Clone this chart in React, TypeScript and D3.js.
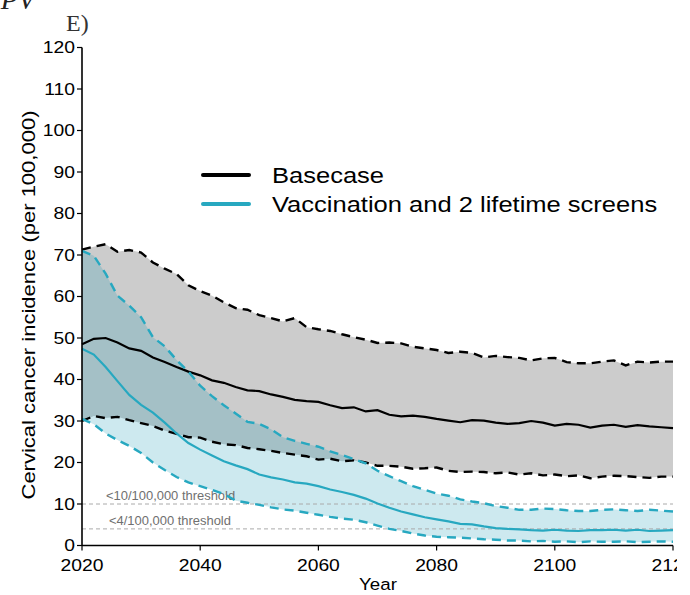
import React from "react";
import * as d3 from "d3";

const years = d3.range(2020, 2121, 2);

const baseUpper = [71.3, 72.0, 72.6, 70.8, 71.2, 70.6, 68.2, 66.7, 65.4, 62.7, 61.3, 60.2, 58.6, 57.2, 56.8, 55.5, 54.8, 54.0, 54.8, 52.6, 52.1, 51.7, 50.9, 50.2, 49.6, 48.8, 48.9, 48.7, 47.9, 47.5, 47.1, 46.4, 46.7, 46.4, 45.3, 45.7, 45.4, 45.2, 44.6, 45.1, 45.2, 44.2, 43.9, 43.9, 44.3, 44.6, 43.4, 44.3, 44.1, 44.3, 44.3];
const baseMedian = [48.5, 49.8, 50.0, 48.9, 47.5, 46.9, 45.3, 44.2, 43.0, 41.9, 41.0, 39.8, 39.2, 38.2, 37.4, 37.2, 36.4, 35.8, 35.1, 34.8, 34.6, 33.8, 33.1, 33.3, 32.3, 32.6, 31.5, 31.1, 31.3, 31.0, 30.5, 30.1, 29.7, 30.2, 30.1, 29.6, 29.3, 29.5, 30.0, 29.6, 28.9, 29.3, 29.1, 28.4, 28.9, 29.1, 28.6, 29.0, 28.7, 28.5, 28.3];
const baseLower = [30.0, 31.2, 30.7, 31.0, 30.2, 29.5, 28.8, 27.7, 26.9, 26.1, 26.0, 25.0, 24.4, 24.2, 23.5, 23.2, 22.8, 22.3, 21.9, 21.5, 20.7, 20.9, 20.3, 20.5, 20.0, 19.2, 19.2, 19.0, 18.5, 18.6, 18.8, 18.0, 17.7, 17.8, 17.7, 17.4, 17.6, 17.1, 17.4, 16.9, 17.1, 16.7, 16.9, 16.2, 16.6, 16.8, 16.7, 16.5, 16.3, 16.6, 16.6];

const vaxUpper = [71.0, 69.8, 65.5, 60.2, 57.8, 55.0, 50.2, 48.0, 44.7, 41.9, 38.5, 36.0, 33.8, 31.8, 29.8, 29.3, 28.0, 26.1, 25.2, 24.5, 23.8, 22.7, 21.8, 20.8, 19.8, 18.0, 16.7, 15.5, 14.3, 13.4, 12.5, 12.0, 11.1, 10.6, 10.2, 9.5, 9.1, 8.6, 8.6, 8.9, 8.8, 8.5, 8.3, 8.3, 8.6, 8.7, 8.5, 8.3, 8.6, 8.4, 8.2];
const vaxMedian = [47.4, 46.0, 43.0, 39.6, 36.3, 33.9, 32.0, 29.6, 27.0, 24.7, 23.1, 21.7, 20.3, 19.3, 18.4, 17.1, 16.4, 15.9, 15.2, 14.9, 14.3, 13.5, 12.9, 12.2, 11.3, 10.1, 9.1, 8.2, 7.5, 6.8, 6.3, 5.8, 5.2, 5.1, 4.6, 4.2, 4.0, 3.9, 3.7, 3.6, 3.8, 3.6, 3.5, 3.7, 3.7, 3.8, 3.6, 3.8, 3.5, 3.6, 3.7];
const vaxLower = [30.5, 29.2, 27.0, 25.4, 24.0, 22.3, 20.0, 18.2, 16.5, 15.2, 14.3, 13.4, 12.4, 10.8, 10.3, 9.8, 9.2, 8.7, 8.4, 7.9, 7.4, 6.9, 6.5, 6.2, 5.6, 4.8, 4.0, 3.5, 2.9, 2.4, 2.1, 2.0, 1.9, 1.7, 1.5, 1.4, 1.2, 1.2, 1.0, 1.1, 0.9, 1.0, 0.8, 1.0, 0.9, 0.9, 1.0, 0.8, 0.9, 1.0, 0.9];

const yTicks = [0, 10, 20, 30, 40, 50, 60, 70, 80, 90, 100, 110, 120];
const xTicks = [2020, 2040, 2060, 2080, 2100, 2120];
const thresholds = [
  { value: 10, label: "<10/100,000 threshold" },
  { value: 4, label: "<4/100,000 threshold" },
];
const legendItems = [
  { label: "Basecase", color: "#000000" },
  { label: "Vaccination and 2 lifetime screens", color: "#27A8C0" },
];

const W = 690;
const H = 595;
const FONT = "'Liberation Sans', Arial, Helvetica, sans-serif";
const CYAN = "#27A8C0";

type TProps = {
  x: number;
  y: number;
  size: number;
  sx?: number;
  rotate?: number;
  anchor?: "start" | "middle" | "end";
  fill?: string;
  dy?: string;
  children: React.ReactNode;
};

function T({ x, y, size, sx = 1, rotate = 0, anchor = "start", fill = "#000", dy, children }: TProps) {
  return (
    <g transform={`translate(${x},${y}) rotate(${rotate}) scale(${sx},1)`}>
      <text x={0} y={0} dy={dy} textAnchor={anchor} fontFamily={FONT} fontSize={size} fill={fill}>
        {children}
      </text>
    </g>
  );
}

export default function App() {
  const x = d3.scaleLinear().domain([2020, 2120]).range([82, 673]);
  const y = d3.scaleLinear().domain([0, 120]).range([545.5, 47.5]);

  const band = (up: number[], lo: number[]) =>
    d3
      .area<number>()
      .x((_, i) => x(years[i]))
      .y0((_, i) => y(lo[i]))
      .y1((_, i) => y(up[i]))(years) || "";
  const line = (vals: number[]) =>
    d3
      .line<number>()
      .x((_, i) => x(years[i]))
      .y((_, i) => y(vals[i]))(years) || "";

  return (
    <svg
      width={W}
      height={H}
      style={{ position: "absolute", left: 0, top: 0, background: "#fff" }}
    >
      <defs>
        <clipPath id="pageclip">
          <rect x={0} y={0} width={677} height={H} />
        </clipPath>
      </defs>
      <g clipPath="url(#pageclip)">
        <text
          x={35}
          y={9}
          textAnchor="end"
          fontFamily="'Liberation Serif', 'Times New Roman', serif"
          fontStyle="italic"
          fontSize={28}
          fill="#222"
        >
          HPV
        </text>
        <text
          x={66}
          y={31}
          fontFamily="'Liberation Serif', 'Times New Roman', serif"
          fontSize={24}
          fill="#333"
        >
          E)
        </text>

        {/* bands */}
        <path d={band(baseUpper, baseLower)} fill="#CCCCCC" />
        <path d={band(vaxUpper, vaxLower)} fill="rgb(5,145,175)" fillOpacity={0.2} />

        {/* thresholds */}
        {thresholds.map((t) => (
          <g key={t.label}>
            <line
              x1={x(2020)}
              x2={x(2120)}
              y1={y(t.value)}
              y2={y(t.value)}
              stroke="#AAAAAA"
              strokeWidth={1}
              strokeDasharray="4,3"
            />
            <T x={t.value === 10 ? 106 : 109} y={y(t.value) - 4} size={12} sx={1.08} fill="#707070">
              {t.label}
            </T>
          </g>
        ))}

        {/* basecase lines */}
        <path d={line(baseUpper)} fill="none" stroke="#000" strokeWidth={2.4} strokeDasharray="9,6" />
        <path d={line(baseLower)} fill="none" stroke="#000" strokeWidth={2.4} strokeDasharray="9,6" />
        <path d={line(baseMedian)} fill="none" stroke="#000" strokeWidth={2.2} />

        {/* vaccination lines */}
        <path d={line(vaxUpper)} fill="none" stroke={CYAN} strokeWidth={2.4} strokeDasharray="9,6" />
        <path d={line(vaxLower)} fill="none" stroke={CYAN} strokeWidth={2.4} strokeDasharray="9,6" />
        <path d={line(vaxMedian)} fill="none" stroke={CYAN} strokeWidth={2.2} />

        {/* y axis */}
        <line x1={82} x2={82} y1={y(120)} y2={y(0)} stroke="#000" strokeWidth={1.6} />
        {yTicks.map((t) => (
          <g key={t}>
            <line x1={77} x2={82} y1={y(t)} y2={y(t)} stroke="#000" strokeWidth={1.2} />
            <T x={75} y={y(t)} dy="0.36em" anchor="end" size={16.5} sx={1.17}>
              {t}
            </T>
          </g>
        ))}

        {/* x axis */}
        <line x1={x(2020)} x2={x(2120)} y1={y(0)} y2={y(0)} stroke="#000" strokeWidth={1.6} />
        {xTicks.map((t) => (
          <g key={t}>
            <line x1={x(t)} x2={x(t)} y1={y(0)} y2={y(0) + 5} stroke="#000" strokeWidth={1.2} />
            <T x={x(t)} y={571} anchor="middle" size={16.5} sx={1.17}>
              {t}
            </T>
          </g>
        ))}

        <T x={378} y={590} anchor="middle" size={17} sx={1.1}>
          Year
        </T>
        <T x={35} y={305} rotate={-90} anchor="middle" size={18.5} sx={1.19}>
          Cervical cancer incidence (per 100,000)
        </T>

        {/* legend */}
        {legendItems.map((it, i) => (
          <g key={it.label}>
            <line
              x1={203}
              x2={249}
              y1={175 + i * 29}
              y2={175 + i * 29}
              stroke={it.color}
              strokeWidth={4}
              strokeLinecap="round"
            />
            <T x={272} y={183 + i * 29} size={22} sx={1.16}>
              {it.label}
            </T>
          </g>
        ))}
      </g>
    </svg>
  );
}
